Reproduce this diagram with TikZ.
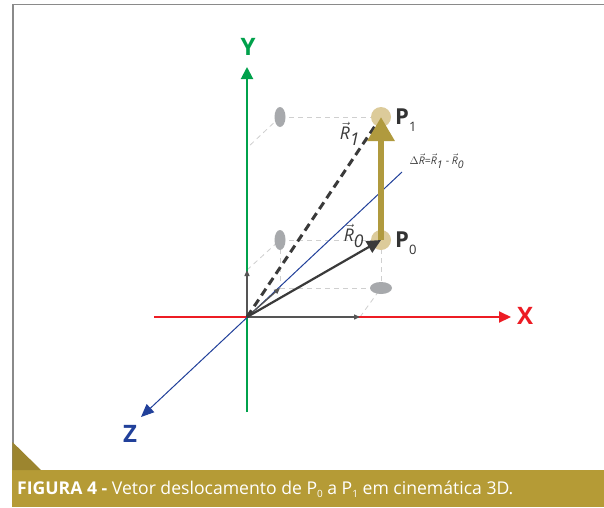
\documentclass[tikz,border=0pt]{standalone}
\usepackage{fontspec}
\setmainfont{Open Sans}
\usetikzlibrary{arrows.meta}
\definecolor{gold}{HTML}{B59B36}
\definecolor{golddark}{HTML}{9C852F}
\definecolor{goldarrow}{HTML}{B09A3E}
\definecolor{tan}{HTML}{DCCB9A}
\definecolor{framegray}{HTML}{8A8A8A}
\definecolor{boxgray}{HTML}{CFCFCF}
\definecolor{ellgray}{HTML}{A7A9AC}
\definecolor{vecgray}{HTML}{3A3A3A}
\definecolor{compgray}{HTML}{555555}
\definecolor{axgreen}{HTML}{00A14B}
\definecolor{axred}{HTML}{ED1C24}
\definecolor{axblue}{HTML}{21409A}
\definecolor{txtgray}{HTML}{333333}
\newcommand{\vR}[1]{$\vec{\textit{R}}_{\textit{#1}}$}
\begin{document}
\begin{tikzpicture}[x=1pt,y=-1pt,
  boxline/.style={boxgray, line width=0.8pt, dash pattern=on 5pt off 4pt},
  axislabel/.style={font=\fontsize{24}{24}\selectfont\bfseries, inner sep=0pt},
  comp/.style={compgray, line width=1.3pt, -{Triangle[length=6pt,width=5pt]}},
  plabel/.style={anchor=west, inner sep=0pt, text=txtgray},
  rlabel/.style={inner sep=0pt, text=vecgray, font=\fontsize{17.5}{17.5}\selectfont}]
\useasboundingbox (0,0) rectangle (604,507);
\fill[white] (0,0) rectangle (604,507);
% frame and caption band
\draw[framegray, line width=1.2pt] (604,4.5) -- (13,4.5) -- (13,470);
\fill[gold] (12.4,470) rectangle (604,507);
\fill[golddark] (12.4,442) -- (12.4,470) -- (41,470) -- cycle;
\node[anchor=base west, inner sep=0pt, text=white, font=\fontsize{17.6}{18}\selectfont] (cap) at (17,494)
  {\textbf{FIGURA 4 -} Vetor deslocamento de P\raisebox{-3.5pt}{\fontsize{10}{10}\selectfont 0} a P\raisebox{-3.5pt}{\fontsize{10}{10}\selectfont 1} em cinemática 3D.};
% coordinates
\coordinate (O) at (247,317);
\coordinate (Ytip) at (247,67);
\coordinate (Ybot) at (247,412);
\coordinate (Xtip) at (511,317);
\coordinate (Xl) at (154,317);
\coordinate (Ztip) at (141,417);
\coordinate (Zend) at (402,172);
\coordinate (Cx) at (360,317);
\coordinate (Cy) at (247,270);
\coordinate (Cz) at (280,288);
\coordinate (Ey0) at (280,240);
\coordinate (Ey1) at (280,117);
\coordinate (Ex) at (381,288);
\coordinate (Ya) at (247,148);
\coordinate (P0c) at (381,240);
\coordinate (P1c) at (381,117);
% dashed box
\draw[boxline] (Ey1) -- (P1c);
\draw[boxline] (Ey1) -- (Ya);
\draw[boxline] (Ey0) -- (P0c);
\draw[boxline] (P0c) -- (Ex);
\draw[boxline] (Cz) -- (Ex);
\draw[boxline] (Ey0) -- (Cz);
\draw[boxline] (Cy) -- (Ey0);
\draw[boxline] (Cx) -- (Ex);
% ellipses
\fill[ellgray] (Ey0) ellipse [x radius=5.5pt, y radius=10pt];
\fill[ellgray] (Ey1) ellipse [x radius=5.5pt, y radius=10pt];
\fill[ellgray] (Ex) ellipse [x radius=11pt, y radius=6pt];
% axes
\draw[axgreen, line width=2pt, -{Triangle[length=12pt,width=12pt]}] (Ybot) -- (Ytip);
\draw[axred, line width=2pt, -{Triangle[length=12pt,width=11pt]}] (Xl) -- (Xtip);
\draw[axblue, line width=1pt, -{Triangle[length=13pt,width=11pt]}] (Zend) -- (Ztip);
\node[axislabel, text=axgreen] (Ylab) at (248,47) {Y};
\node[axislabel, text=axred] (Xlab) at (525,316) {X};
\node[axislabel, text=axblue] (Zlab) at (130,434) {Z};
% components
\draw[comp] (O) -- (Cx);
\draw[comp] (O) -- (Cy);
\draw[comp] (O) -- (Cz);
% points
\node[circle, fill=tan, minimum size=20pt, inner sep=0pt] (P0) at (P0c) {};
\node[circle, fill=tan, minimum size=20pt, inner sep=0pt] (P1) at (P1c) {};
% R1 dashed
\draw[vecgray, line width=3pt, dash pattern=on 8pt off 5pt] (O) -- (377,123);
% R0
\draw[vecgray, line width=2.2pt, -{Triangle[length=14pt,width=13pt]}] (O) -- (P0c);
% Delta R
\draw[goldarrow, line width=6pt, -{Triangle[length=24pt,width=26pt]}] (P0c) -- (P1c);
% labels
\node[plabel] (P1lab) at (395,120) {\fontsize{22}{22}\selectfont\bfseries P\raisebox{-7pt}{\fontsize{13}{13}\selectfont\mdseries 1}};
\node[plabel] (P0lab) at (395,243) {\fontsize{22}{22}\selectfont\bfseries P\raisebox{-7pt}{\fontsize{13}{13}\selectfont\mdseries 0}};
\node[rlabel] (R1lab) at (350,134) {\vR{1}};
\node[rlabel] (R0lab) at (354,236) {\vR{0}};
\node[inner sep=0pt, text=vecgray, font=\fontsize{10.5}{10.5}\selectfont] (dR) at (437,161)
  {$\Delta\vec{\textit{R}}$=\vR{1} - \vR{0}};
\end{tikzpicture}
\end{document}
